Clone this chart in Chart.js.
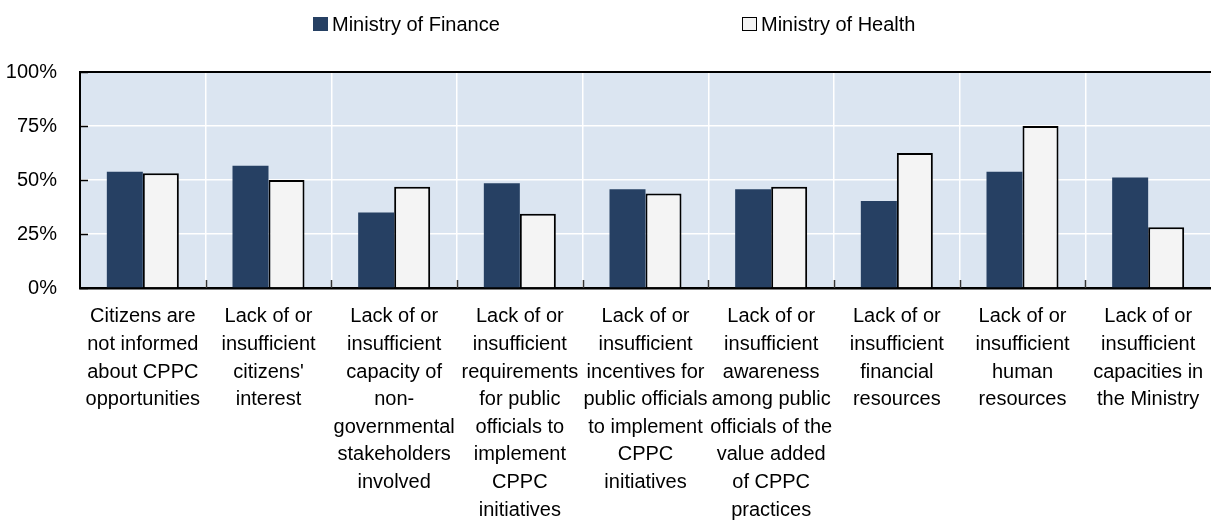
<!DOCTYPE html>
<html>
<head>
<meta charset="utf-8">
<script src="https://cdn.jsdelivr.net/npm/chart.js@4/dist/chart.umd.min.js"></script>
<style>
  html, body { margin: 0; padding: 0; background: #fff; }
  #wrap { position: relative; width: 1211px; height: 524px; }
  #c { position: absolute; left: 0; top: 0; }
  .legend { position: absolute; top: 10px; height: 28px; display: flex; align-items: center;
            font-family: 'Liberation Sans', Arial, sans-serif;
            font-size: 20px; color: #000; white-space: nowrap; }
  .legend .sw { width: 15px; height: 14px; margin-right: 4px; box-sizing: border-box; }
</style>
</head>
<body>
<div id="wrap">
  <canvas id="c" width="1211" height="524"></canvas>
  <div class="legend" style="left:313px"><span class="sw" style="background:#264063"></span><span id="lgFinTxt"></span></div>
  <div class="legend" style="left:742px"><span class="sw" style="background:#f4f4f4;border:1.5px solid #000"></span><span id="lgHeaTxt"></span></div>
</div>
<script>
// Obstacles to citizen participation in the budget process (share of respondents)
const categories = [
  ["Citizens are", "not informed", "about CPPC", "opportunities"],
  ["Lack of or", "insufficient", "citizens'", "interest"],
  ["Lack of or", "insufficient", "capacity of", "non-", "governmental", "stakeholders", "involved"],
  ["Lack of or", "insufficient", "requirements", "for public", "officials to", "implement", "CPPC", "initiatives"],
  ["Lack of or", "insufficient", "incentives for", "public officials", "to implement", "CPPC", "initiatives"],
  ["Lack of or", "insufficient", "awareness", "among public", "officials of the", "value added", "of CPPC", "practices"],
  ["Lack of or", "insufficient", "financial", "resources"],
  ["Lack of or", "insufficient", "human", "resources"],
  ["Lack of or", "insufficient", "capacities in", "the Ministry"]
];
const seriesNames = ["Ministry of Finance", "Ministry of Health"];
const financeValues = [53.8, 56.6, 35.0, 48.5, 45.7, 45.7, 40.3, 53.8, 51.2];
const healthValues  = [53.1, 50.0, 46.9, 34.4, 43.8, 46.9, 62.5, 75.0, 28.1];
const yTicks = [0, 25, 50, 75, 100];

document.getElementById('lgFinTxt').textContent = seriesNames[0];
document.getElementById('lgHeaTxt').textContent = seriesNames[1];

Chart.defaults.font.family = "'Liberation Sans', Arial, sans-serif";
Chart.defaults.color = '#000';

// plot background, frame and inward tick marks
const framePlugin = {
  id: 'frame',
  beforeDraw(chart) {
    const { ctx, chartArea: a } = chart;
    ctx.save();
    ctx.fillStyle = '#dbe5f1';
    ctx.fillRect(a.left, a.top, a.right - a.left, a.bottom - a.top);
    ctx.restore();
  },
  afterDatasetsDraw(chart) {
    const { ctx, chartArea: a, scales } = chart;
    ctx.save();
    ctx.strokeStyle = '#000';
    ctx.lineWidth = 2;
    ctx.beginPath();
    ctx.moveTo(a.left, a.top);
    ctx.lineTo(a.right, a.top);
    ctx.stroke();
    // y tick marks pointing into the plot
    ctx.lineWidth = 1.5;
    yTicks.forEach(v => {
      const y = Math.round(scales.y.getPixelForValue(v)) + 0.5;
      ctx.beginPath();
      ctx.moveTo(a.left, y);
      ctx.lineTo(a.left + 8, y);
      ctx.stroke();
    });
    // category boundary marks rising from the base line
    ctx.strokeStyle = '#333';
    const xs = scales.x;
    for (let i = 1; i < categories.length; i++) {
      const x = Math.round((xs.getPixelForValue(i - 1) + xs.getPixelForValue(i)) / 2) + 0.5;
      ctx.beginPath();
      ctx.moveTo(x, a.bottom);
      ctx.lineTo(x, a.bottom - 8);
      ctx.stroke();
    }
    ctx.restore();
  }
};

new Chart(document.getElementById('c'), {
  type: 'bar',
  data: {
    labels: categories,
    datasets: [
      { label: seriesNames[0], data: financeValues, backgroundColor: '#264063', borderWidth: 0,
        categoryPercentage: 0.573, barPercentage: 1 },
      { label: seriesNames[1], data: healthValues, backgroundColor: '#f4f4f4', borderColor: '#000',
        borderWidth: 2, categoryPercentage: 0.573, barPercentage: 1 }
    ]
  },
  options: {
    responsive: false,
    animation: false,
    devicePixelRatio: 1,
    layout: { padding: { top: 72, right: 0, left: 0, bottom: 0 } },
    plugins: { legend: { display: false }, tooltip: { enabled: false } },
    scales: {
      x: {
        offset: true,
        grid: { color: '#ffffff', lineWidth: 1.5, drawTicks: false, offset: true },
        border: { color: '#000', width: 2.5 },
        ticks: { autoSkip: false, maxRotation: 0, minRotation: 0, padding: 15,
                 font: { size: 20, lineHeight: 1.38 }, color: '#000' },
        afterFit(s) { s.height = 236; s.paddingLeft = 0; s.paddingRight = 0; }
      },
      y: {
        min: 0, max: 100,
        afterBuildTicks(s) { s.ticks = yTicks.map(v => ({ value: v })); },
        grid: { color: '#ffffff', lineWidth: 1.5, drawTicks: false },
        border: { color: '#000', width: 2 },
        ticks: { padding: 23, font: { size: 20 }, color: '#000', callback: v => v + '%' },
        afterFit(s) { s.width = 80; s.paddingTop = 0; s.paddingBottom = 0; }
      }
    }
  },
  plugins: [framePlugin]
});
</script>
</body>
</html>
